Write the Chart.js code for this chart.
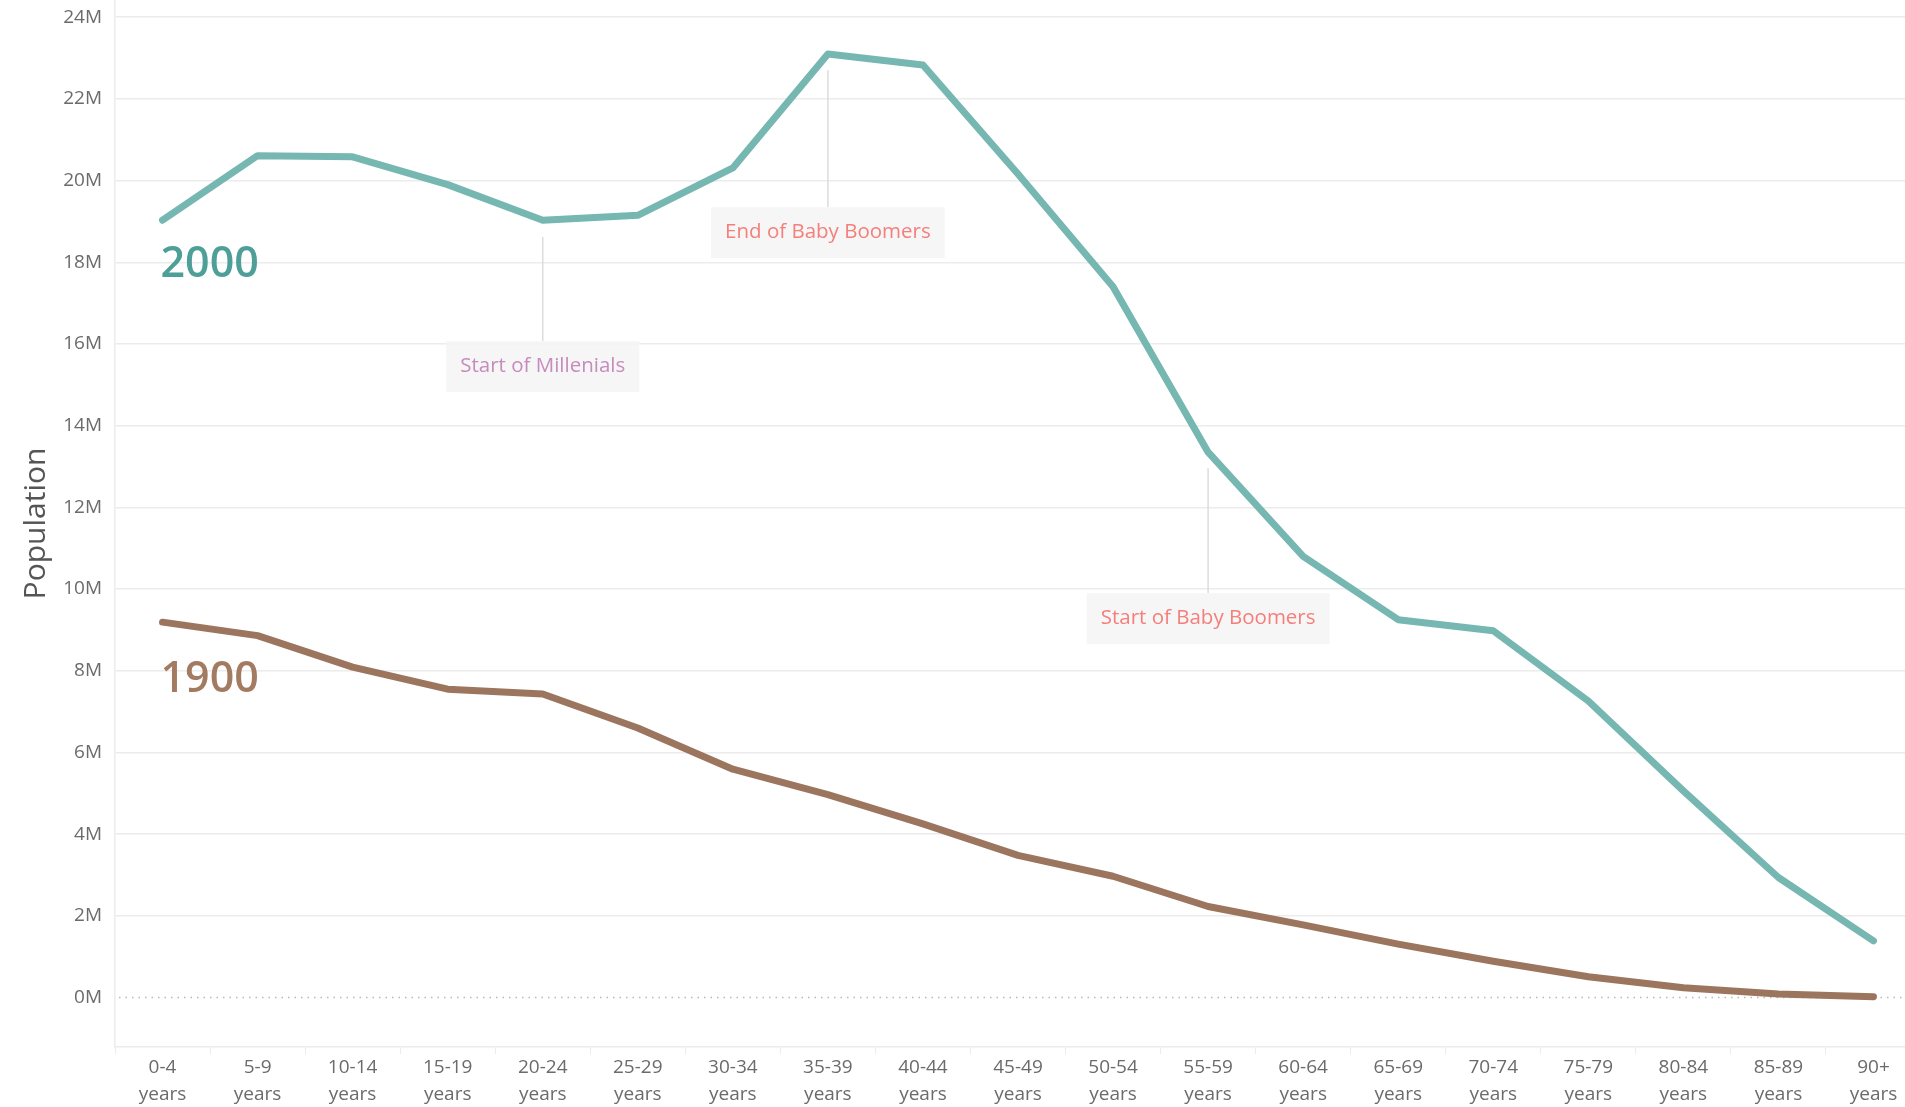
<!DOCTYPE html>
<html>
<head>
<meta charset="utf-8">
<script src="https://cdn.jsdelivr.net/npm/chart.js@4.4.1/dist/chart.umd.min.js"></script>
<style>
    html, body { margin: 0; padding: 0; background: #fff; overflow: hidden; }
    #wrap { width: 1921px; height: 1107px; }
</style>
</head>
<body>
<div id="wrap"><canvas id="populationChart" width="1921" height="1107"></canvas></div>
<script>
const ageGroups = ['0-4', '5-9', '10-14', '15-19', '20-24', '25-29', '30-34', '35-39', '40-44',
    '45-49', '50-54', '55-59', '60-64', '65-69', '70-74', '75-79', '80-84', '85-89', '90+'];

// population in millions
const pop2000 = [19.03, 20.61, 20.58, 19.90, 19.03, 19.15, 20.31, 23.10, 22.83, 20.16,
    17.40, 13.35, 10.80, 9.25, 8.98, 7.26, 5.06, 2.94, 1.39];
const pop1900 = [9.19, 8.86, 8.09, 7.55, 7.43, 6.60, 5.59, 4.97, 4.25, 3.48,
    2.97, 2.23, 1.78, 1.31, 0.89, 0.51, 0.24, 0.09, 0.02];

// y axis ticks in millions
const yTicks = [0, 2, 4, 6, 8, 10, 12, 14, 16, 18, 20, 22, 24];
const yMin = -1.21e6;
const yMax = 24.42e6;

// callouts: category index, where the leader line starts, where the box starts (in population units)
const notes = [
    { text: 'Start of Millenials', index: 4, lineTop: 18.62e6, boxTop: 16.07e6, color: '#c58cbd' },
    { text: 'End of Baby Boomers', index: 7, lineTop: 22.70e6, boxTop: 19.35e6, color: '#f47f7b' },
    { text: 'Start of Baby Boomers', index: 11, lineTop: 12.96e6, boxTop: 9.90e6, color: '#f47f7b' }
];

const seriesLabels = [
    { text: '2000', value: 17.95e6, color: '#4d9f98' },
    { text: '1900', value: 7.79e6, color: '#a27b60' }
];

const FONT = "'Open Sans', sans-serif";
Chart.defaults.font.family = FONT;

const overlayPlugin = {
    id: 'overlay',
    beforeDatasetsDraw(chart) {
        const { ctx, chartArea, scales: { y } } = chart;
        // dotted zero line
        const y0 = y.getPixelForValue(0);
        ctx.save();
        ctx.strokeStyle = '#b8b8b8';
        ctx.lineWidth = 1.5;
        ctx.setLineDash([1.5, 5]);
        ctx.beginPath();
        ctx.moveTo(chartArea.left + 4, y0);
        ctx.lineTo(chartArea.right, y0);
        ctx.stroke();
        ctx.restore();
    },
    afterDatasetsDraw(chart) {
        const { ctx, scales: { x, y } } = chart;
        ctx.save();

        notes.forEach(note => {
            const px = x.getPixelForValue(note.index);
            const lineTop = y.getPixelForValue(note.lineTop);
            const boxTop = y.getPixelForValue(note.boxTop);

            ctx.strokeStyle = '#dcdcdc';
            ctx.lineWidth = 1.5;
            ctx.beginPath();
            ctx.moveTo(px, lineTop);
            ctx.lineTo(px, boxTop);
            ctx.stroke();

            ctx.font = '20.5px ' + FONT;
            const w = ctx.measureText(note.text).width + 28;
            const h = 51;
            ctx.fillStyle = 'rgba(245, 245, 245, 0.9)';
            ctx.fillRect(px - w / 2, boxTop, w, h);

            ctx.fillStyle = note.color;
            ctx.textAlign = 'center';
            ctx.textBaseline = 'middle';
            ctx.fillText(note.text, px, boxTop + h / 2);
        });

        // big year labels next to the first point
        const left = x.getPixelForValue(0) - 2;
        seriesLabels.forEach(lbl => {
            ctx.font = '600 43px ' + FONT;
            ctx.fillStyle = lbl.color;
            ctx.textAlign = 'left';
            ctx.textBaseline = 'middle';
            ctx.fillText(lbl.text, left, y.getPixelForValue(lbl.value));
        });

        ctx.restore();
    }
};

const ctx = document.getElementById('populationChart');

new Chart(ctx, {
    type: 'line',
    data: {
        labels: ageGroups.map(g => [g, 'years']),
        datasets: [
            {
                label: '2000',
                data: pop2000.map(v => v * 1e6),
                borderColor: '#76b7b2',
                borderWidth: 7,
                borderCapStyle: 'round',
                borderJoinStyle: 'round',
                pointRadius: 0,
                tension: 0,
                fill: false
            },
            {
                label: '1900',
                data: pop1900.map(v => v * 1e6),
                borderColor: '#9c755f',
                borderWidth: 7,
                borderCapStyle: 'round',
                borderJoinStyle: 'round',
                pointRadius: 0,
                tension: 0,
                fill: false
            }
        ]
    },
    options: {
        responsive: false,
        animation: false,
        layout: { padding: 0 },
        plugins: {
            legend: { display: false },
            tooltip: { enabled: false }
        },
        scales: {
            x: {
                offset: true,
                afterFit: function(scale) {
                    scale.height = 60;
                },
                grid: {
                    drawOnChartArea: false,
                    drawTicks: true,
                    tickLength: 7,
                    tickColor: '#ececec',
                    offset: true
                },
                border: { color: '#ececec', width: 1.5 },
                ticks: {
                    color: '#6b6b6b',
                    font: { size: 19, lineHeight: 1.42 },
                    padding: 0,
                    maxRotation: 0,
                    autoSkip: false
                }
            },
            y: {
                min: yMin,
                max: yMax,
                afterBuildTicks: function(scale) {
                    scale.ticks = yTicks.map(v => ({ value: v * 1e6 }));
                },
                afterFit: function(scale) {
                    scale.width = 115;
                    scale.paddingTop = 0;
                    scale.paddingBottom = 0;
                },
                grid: {
                    drawTicks: false,
                    color: function(c) {
                        return c.tick && c.tick.value === 0 ? 'rgba(0,0,0,0)' : '#ececec';
                    },
                    lineWidth: 1.5
                },
                border: { color: '#ececec', width: 1.5 },
                ticks: {
                    autoSkip: false,
                    color: '#6b6b6b',
                    font: { size: 19 },
                    padding: 13,
                    callback: function(value) {
                        return Math.round(value / 1e6) + 'M';
                    }
                },
                title: {
                    display: true,
                    text: 'Population',
                    color: '#555555',
                    font: { size: 30 },
                    padding: { top: 18, bottom: 0 }
                }
            }
        }
    },
    plugins: [overlayPlugin]
});
</script>
</body>
</html>
